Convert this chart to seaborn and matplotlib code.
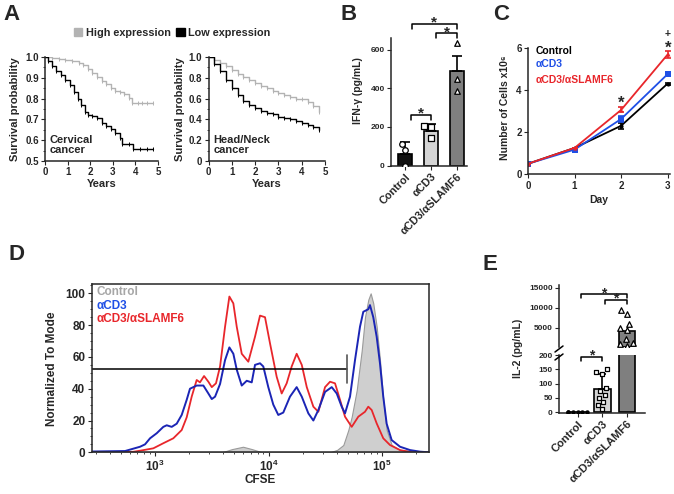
import warnings
import matplotlib
matplotlib.use("Agg")
import matplotlib.pyplot as plt
import matplotlib.ticker as mticker
from matplotlib.lines import Line2D
from matplotlib.patches import Patch
import seaborn as sns

warnings.filterwarnings("ignore")

# ---- A: Kaplan-Meier curves
cerv_high_t = [0, 0.3, 0.6, 0.9, 1.2, 1.5, 1.7, 1.9, 2.1, 2.3, 2.5, 2.7, 2.9, 3.1, 3.3, 3.5, 3.7, 3.85, 4.1, 4.3, 4.5, 4.8]
cerv_high_s = [1.0, 0.995, 0.99, 0.985, 0.98, 0.97, 0.96, 0.94, 0.925, 0.905, 0.885, 0.87, 0.85, 0.835, 0.83, 0.82, 0.805, 0.78, 0.78, 0.78, 0.78, 0.78]
cerv_low_t = [0, 0.15, 0.3, 0.5, 0.7, 0.9, 1.1, 1.3, 1.45, 1.6, 1.75, 1.9, 2.1, 2.3, 2.5, 2.7, 2.9, 3.1, 3.3, 3.4, 3.7, 3.9, 4.2, 4.5, 4.8]
cerv_low_s = [1.0, 0.98, 0.955, 0.935, 0.915, 0.89, 0.865, 0.83, 0.80, 0.77, 0.735, 0.72, 0.715, 0.705, 0.685, 0.67, 0.655, 0.635, 0.61, 0.58, 0.58, 0.56, 0.56, 0.56, 0.56]
hn_t = [0, 0.25, 0.5, 0.75, 1.0, 1.25, 1.5, 1.75, 2.0, 2.25, 2.5, 2.75, 3.0, 3.25, 3.5, 3.75, 4.0, 4.25, 4.5, 4.75]
hn_high_s = [1.0, 0.975, 0.945, 0.91, 0.875, 0.84, 0.805, 0.78, 0.75, 0.72, 0.70, 0.675, 0.65, 0.63, 0.615, 0.60, 0.595, 0.57, 0.53, 0.47]
hn_low_s = [1.0, 0.93, 0.87, 0.78, 0.70, 0.63, 0.58, 0.54, 0.51, 0.48, 0.46, 0.45, 0.42, 0.41, 0.40, 0.38, 0.365, 0.345, 0.33, 0.30]

# ---- B: IFN-gamma
groups = ["Control", "αCD3", "αCD3/αSLAMF6"]
ifn_mean = [60, 181, 489]
ifn_err = [61, 35, 76]
ifn_ctrl = [112, 81, 0]
ifn_cd3 = [207, 199, 143]
ifn_slamf6 = [634, 449, 385]

# ---- C: cell counts
days = [0, 1, 2, 3]
cells_ctrl = [0.5, 1.25, 2.3, 4.3]
cells_ctrl_err = [0, 0, 0.15, 0.05]
cells_cd3 = [0.5, 1.17, 2.62, 4.75]
cells_cd3_err = [0, 0, 0.15, 0.1]
cells_slamf6 = [0.5, 1.25, 3.05, 5.68]
cells_slamf6_err = [0, 0, 0.12, 0.15]

# ---- D: CFSE histograms (log10 CFSE, % of mode)
cfse_cd3_log = [2.442, 2.736, 2.868, 2.912, 2.956, 3.015, 3.073, 3.103, 3.147, 3.191, 3.235, 3.279, 3.308, 3.367,
                3.426, 3.470, 3.500, 3.529, 3.573, 3.617, 3.655, 3.690, 3.720, 3.764, 3.808, 3.852, 3.881, 3.925,
                3.954, 3.998, 4.042, 4.086, 4.130, 4.189, 4.248, 4.293, 4.351, 4.395, 4.439, 4.498, 4.557, 4.601,
                4.645, 4.674, 4.718, 4.762, 4.806, 4.835, 4.879, 4.894, 4.923, 4.953, 4.982, 5.011, 5.041, 5.085,
                5.159, 5.247, 5.335, 5.414]
cfse_cd3_y = [0.5, 0.8, 3.5, 5, 8.8, 12, 16, 17, 16, 18, 23.5, 33, 40, 42,
              42, 37, 33.5, 35, 43, 58, 66, 62, 52, 42, 45, 44, 55, 56,
              54, 41, 30, 23.5, 25, 35, 41, 35, 24.5, 20, 26.6, 38, 41, 37,
              28.7, 24.5, 35, 58, 79, 88.4, 90, 92.6, 85, 72.7, 56, 35, 18, 7.7,
              3.5, 1.4, 0.4, 0]
cfse_slamf6_log = [2.442, 2.806, 2.868, 2.985, 3.073, 3.161, 3.235, 3.279, 3.323, 3.367, 3.396, 3.432, 3.470, 3.500,
                   3.537, 3.573, 3.617, 3.655, 3.690, 3.720, 3.764, 3.822, 3.881, 3.925, 3.969, 4.013, 4.072, 4.116,
                   4.160, 4.204, 4.248, 4.293, 4.337, 4.395, 4.439, 4.498, 4.542, 4.586, 4.630, 4.674, 4.733, 4.791,
                   4.850, 4.879, 4.909, 4.953, 5.011, 5.070, 5.159, 5.262, 5.414]
cfse_slamf6_y = [0, 0.3, 1, 2.5, 5.7, 8.8, 14, 22, 35, 45.5, 44, 48, 44.4, 41,
                 43.4, 54, 79, 98, 93.7, 79, 62, 57, 72.7, 86, 85, 68.6, 47.5, 37,
                 43.4, 54, 62, 55, 41, 28.7, 25.5, 41, 44.4, 43.4, 33, 22.4, 16, 22.4,
                 25.5, 28.7, 26.6, 18.2, 8.8, 4.6, 1.4, 0, 0]
cfse_ctrl_log = [2.442, 3.590, 3.678, 3.775, 3.854, 3.943, 4.542, 4.604, 4.659, 4.703, 4.733, 4.777, 4.821, 4.850,
                 4.879, 4.900, 4.923, 4.953, 4.982, 5.011, 5.041, 5.085, 5.159, 5.247, 5.335, 5.414]
cfse_ctrl_y = [0, 0, 2, 3.5, 2, 0, 0, 1.5, 4.6, 14, 22.4, 39, 64, 85,
               96, 100, 93.7, 79, 58, 33, 14, 4.6, 1.4, 1.0, 0.5, 0]
gate_log = 4.689
gate_level = 52.4

# ---- E: IL-2
il2_mean = [2, 80, 4170]
il2_err = [0, 52, 0]
il2_ctrl = [0, 0, 0, 0, 0, 0]
il2_cd3 = [150, 140, 135, 85, 75, 60, 50, 35, 25, 10]
il2_slamf6 = [8350, 9350, 6000, 4850, 4350, 2100, 1250, 850, 425]

grey_km = "#b3b3b3"
blue_c = "#1f4fe6"
red_c = "#e8262b"
blue_d = "#1b25b5"

sns.set_style("ticks")
plt.rcParams["font.family"] = ["Liberation Sans", "DejaVu Sans"]
plt.rcParams["font.weight"] = "bold"
plt.rcParams["axes.labelweight"] = "bold"
plt.rcParams["axes.linewidth"] = 1.1
plt.rcParams["xtick.major.size"] = 3
plt.rcParams["ytick.major.size"] = 3
plt.rcParams["xtick.minor.size"] = 1.5
plt.rcParams["ytick.minor.size"] = 1.5
plt.rcParams["xtick.major.pad"] = 1.5
plt.rcParams["ytick.major.pad"] = 1.5
plt.rcParams["mathtext.fontset"] = "custom"
plt.rcParams["mathtext.rm"] = "Liberation Sans"
plt.rcParams["mathtext.bf"] = "Liberation Sans:bold"

W, H = 674, 494
fig = plt.figure(figsize=(W / 100, H / 100), dpi=100)


def add_ax(l, t, r, b):
    return fig.add_axes([l / W, 1 - b / H, (r - l) / W, (b - t) / H])


def bracket(ax, x1, x2, y, drop, size=9):
    ax.plot([x1, x1, x2, x2], [y - drop, y, y, y - drop], color="k", lw=1.1, clip_on=False)
    ax.annotate("*", xy=((x1 + x2) / 2, y), xytext=(0, -2), textcoords="offset points",
                ha="center", va="baseline", fontsize=size, annotation_clip=False)


def panel_letter(x, y, s):
    fig.text(x / W, 1 - y / H, s, fontsize=16, fontweight="bold", va="baseline")


# ================= A =================
axA1 = add_ax(45, 57, 158, 161)
axA2 = add_ax(208.5, 57, 325, 161)
km = [(axA1, cerv_high_t, cerv_high_s, grey_km), (axA1, cerv_low_t, cerv_low_s, "k"),
      (axA2, hn_t, hn_high_s, grey_km), (axA2, hn_t, hn_low_s, "k")]
for ax, t, s, c in km:
    ax.step(t, s, where="post", color=c, lw=1.0)
    ax.plot(t[1:], s[1:], ls="none", marker="|", ms=2.5, mew=0.7, color=c)
axA1.set(xlim=(0, 5), ylim=(0.5, 1.0), yticks=[0.5, 0.6, 0.7, 0.8, 0.9, 1.0])
axA1.set_yticklabels(["0.5", "0.6", "0.7", "0.8", "0.9", "1.0"])
axA2.set(xlim=(0, 5), ylim=(0, 1.0), yticks=[0, 0.2, 0.4, 0.6, 0.8, 1.0])
axA2.set_yticklabels(["0", "0.2", "0.4", "0.6", "0.8", "1.0"])
axA1.text(0.22, 0.575, "Cervical\ncancer", fontsize=8, va="center", linespacing=1.0)
axA2.text(0.2, 0.15, "Head/Neck\ncancer", fontsize=8, va="center", linespacing=1.0)
for ax in (axA1, axA2):
    sns.despine(ax=ax)
    ax.set_xticks([0, 1, 2, 3, 4, 5])
    ax.yaxis.set_minor_locator(mticker.AutoMinorLocator(2))
    ax.tick_params(labelsize=7)
    ax.set_xlabel("Years", fontsize=8, labelpad=1)
    ax.set_ylabel("Survival probability", fontsize=8)
axA1.yaxis.set_label_coords(-0.22, 0.5)
axA2.yaxis.set_label_coords(-0.2, 0.5)
fig.legend(handles=[Patch(color=grey_km, label="High expression"), Patch(color="k", label="Low expression")],
           ncol=2, loc="center", bbox_to_anchor=(172 / W, 1 - 33 / H), frameon=False, fontsize=7.8,
           handlelength=0.8, handleheight=0.8, handletextpad=0.3, columnspacing=0.5, borderpad=0)

# ================= B =================
axB = add_ax(391, 38, 467, 165.5)
sns.barplot(x=groups, y=ifn_mean, hue=groups, palette=["#111111", "#d4d4d4", "#7f7f7f"], order=groups,
            width=0.54, edgecolor="k", linewidth=1.2, legend=False, ax=axB)
axB.errorbar([0, 1, 2], ifn_mean, yerr=[[0, 0, 0], ifn_err], fmt="none", ecolor="k", elinewidth=1.2,
             capsize=3.5, capthick=1.2, zorder=3)
for vals, cat, mk in [(ifn_ctrl, groups[0], "o"), (ifn_cd3, groups[1], "s"), (ifn_slamf6, groups[2], "^")]:
    sns.swarmplot(x=[cat] * len(vals), y=vals, order=groups, marker=mk, color="white", edgecolor="k",
                  linewidth=0.9, size=4, zorder=4, ax=axB)
axB.set(xlim=(-0.54, 2.38), ylim=(0, 660), yticks=[0, 200, 400, 600], xlabel="")
axB.set_ylabel("IFN-γ (pg/mL)", fontsize=7.5)
axB.yaxis.set_label_coords(-0.37, 0.59)
axB.tick_params(labelsize=6)
axB.set_xticks([0, 1, 2])
axB.set_xticklabels(groups, rotation=45, ha="right", rotation_mode="anchor", fontsize=7.8)
sns.despine(ax=axB)
bracket(axB, 0.22, 1.0, 261, 26, 11)
bracket(axB, 1.2, 2.0, 684, 26, 11)
bracket(axB, 0.25, 1.98, 732, 26, 11)

# ================= C =================
axC = add_ax(528, 47.7, 670, 174.3)
for vals, errs, col, mk, ms in [(cells_ctrl, cells_ctrl_err, "k", "o", 3),
                                (cells_cd3, cells_cd3_err, blue_c, "s", 4),
                                (cells_slamf6, cells_slamf6_err, red_c, "^", 3)]:
    sns.lineplot(x=days, y=vals, color=col, lw=1.3, marker=mk, markersize=ms, markeredgewidth=0, ax=axC)
    axC.errorbar(days, vals, yerr=errs, fmt="none", ecolor=col, elinewidth=1.2, capsize=2, capthick=1.2)
axC.set(xlim=(0, 3.05), ylim=(0, 6), xticks=[0, 1, 2, 3], yticks=[0, 2, 4, 6])
axC.tick_params(labelsize=7)
axC.set_xlabel("Day", fontsize=7.5, labelpad=3)
axC.set_ylabel("Number of Cells x10⁶", fontsize=7.5)
axC.yaxis.set_label_coords(-0.13, 0.53)
sns.despine(ax=axC)
axC.text(0.17, 5.83, "Control", color="k", fontsize=7.5, va="center")
axC.text(0.17, 5.24, "αCD3", color=blue_c, fontsize=7.5, va="center")
axC.text(0.17, 4.45, "αCD3/αSLAMF6", color=red_c, fontsize=7.5, va="center")
axC.text(2, 3.15, "*", fontsize=12, ha="center", va="baseline")
axC.text(3, 5.75, "*", fontsize=12, ha="center", va="baseline", clip_on=False)
axC.text(3, 6.52, "+", fontsize=7.5, ha="center", va="baseline", clip_on=False)

# ================= D =================
axD = add_ax(91.7, 284.3, 429, 452.3)
axD.set_xscale("log")
axD.fill_between([10 ** v for v in cfse_ctrl_log], cfse_ctrl_y, 0, color="#cfcfcf", lw=0.8,
                 edgecolor="#9a9a9a", zorder=1)
sns.lineplot(x=[10 ** v for v in cfse_slamf6_log], y=cfse_slamf6_y, color=red_c, lw=1.3, sort=False, ax=axD)
sns.lineplot(x=[10 ** v for v in cfse_cd3_log], y=cfse_cd3_y, color=blue_d, lw=1.4, sort=False, ax=axD)
axD.plot([10 ** 2.442, 10 ** gate_log], [gate_level, gate_level], color="k", lw=1.1)
axD.plot([10 ** gate_log] * 2, [gate_level - 9, gate_level + 9], color="#555555", lw=1.2)
axD.set(xlim=(10 ** 2.442, 10 ** 5.414), ylim=(0, 105.7), yticks=[0, 20, 40, 60, 80, 100])
axD.set_xticks([1e3, 1e4, 1e5])
axD.set_xticklabels([r"$\mathbf{10^{3}}$", r"$\mathbf{10^{4}}$", r"$\mathbf{10^{5}}$"])
axD.xaxis.set_minor_locator(mticker.LogLocator(base=10, subs=range(2, 10), numticks=20))
axD.xaxis.set_minor_formatter(mticker.NullFormatter())
axD.yaxis.set_minor_locator(mticker.AutoMinorLocator(4))
axD.tick_params(labelsize=8.5)
axD.set_xlabel("CFSE", fontsize=8.5, labelpad=0)
axD.set_ylabel("Normalized To Mode", fontsize=8.5)
axD.yaxis.set_label_coords(-0.1, 0.5)
axD.text(0.015, 0.952, "Control", color="#a6a6a6", fontsize=8.5, va="center", transform=axD.transAxes)
axD.text(0.015, 0.873, "αCD3", color=blue_c, fontsize=8.5, va="center", transform=axD.transAxes)
axD.text(0.015, 0.793, "αCD3/αSLAMF6", color=red_c, fontsize=8.5, va="center", transform=axD.transAxes)

# ================= E =================
axEu = add_ax(559, 285, 645, 346.7)
axEl = add_ax(559, 355, 645, 412.8)
bar_cols = ["#111111", "#d4d4d4", "#7f7f7f"]
sns.barplot(x=groups, y=il2_mean, hue=groups, palette=bar_cols, order=groups, width=0.67,
            edgecolor="k", linewidth=1.2, legend=False, ax=axEl)
sns.barplot(x=[groups[2]], y=[il2_mean[2]], order=groups, color=bar_cols[2], width=0.67,
            edgecolor="k", linewidth=1.2, ax=axEu)
axEl.errorbar([1], [il2_mean[1]], yerr=[[0], [il2_err[1]]], fmt="none", ecolor="k", elinewidth=1.2,
              capsize=3, capthick=1.2, zorder=3)
sns.swarmplot(x=[groups[0]] * len(il2_ctrl), y=il2_ctrl, order=groups, marker="o", color="k",
              size=3.2, zorder=4, ax=axEl)
sns.swarmplot(x=[groups[1]] * len(il2_cd3), y=il2_cd3, order=groups, marker="s", color="white",
              edgecolor="k", linewidth=0.9, size=3.5, zorder=4, ax=axEl)
sns.swarmplot(x=[groups[2]] * len(il2_slamf6), y=il2_slamf6, order=groups, marker="^", color="white",
              edgecolor="k", linewidth=0.9, size=4, zorder=4, ax=axEu)
axEu.set(xlim=(-0.75, 2.72), ylim=(200, 15700), yticks=[5000, 10000, 15000], xlabel="")
axEl.set(xlim=(-0.75, 2.72), ylim=(-2, 200), yticks=[0, 50, 100, 150, 200], xlabel="")
axEu.set_xticks([])
sns.despine(ax=axEu, bottom=True)
sns.despine(ax=axEl)
for ax in (axEu, axEl):
    ax.tick_params(labelsize=6)
axEl.set_xticks([0, 1, 2])
axEl.set_xticklabels(groups, rotation=45, ha="right", rotation_mode="anchor", fontsize=8)
axEl.set_ylabel("IL-2 (pg/mL)", fontsize=7.5)
axEl.yaxis.set_label_coords(-0.415, 1.12)
bracket(axEu, 0.14, 2.0, 13350, 1000, 10)
bracket(axEu, 1.1, 2.0, 11925, 1000, 10)
bracket(axEl, 0.14, 1.0, 194, 14, 10)
for yb in (349, 357):
    fig.add_artist(Line2D([555 / W, 563 / W], [1 - (yb + 3) / H, 1 - (yb - 3) / H], color="k", lw=1.1))

panel_letter(3, 20, "A")
panel_letter(341, 20, "B")
panel_letter(493, 20, "C")
panel_letter(8, 260, "D")
panel_letter(482, 270, "E")

fig.savefig("out.png", dpi=100)
